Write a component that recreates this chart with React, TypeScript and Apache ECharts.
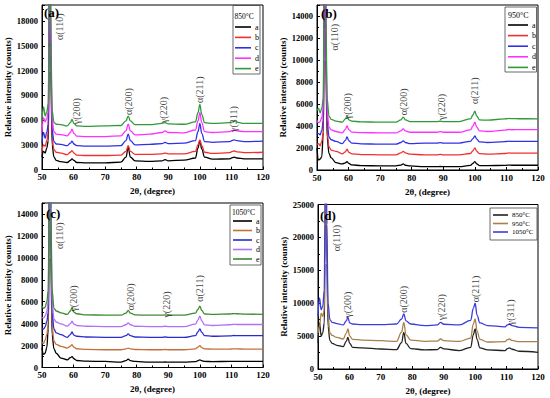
import React, { useEffect, useRef } from "react";
import * as echarts from "echarts";

// Shared 2θ sampling positions (degree)
const TWO_THETA = [50, 50.5, 51, 51.5, 52, 52.2, 52.5, 52.8, 53.2, 53.8, 54.5, 56, 58, 59, 59.5, 60.1, 61, 64, 70, 75, 76.6, 77.3, 78, 79.5, 84, 88, 89, 90, 95, 98.6, 99.4, 100, 100.6, 101.5, 104, 109.5, 110.3, 110.9, 111.7, 114, 120];

// (a) 850°C
const P850_A = [1500, 2200, 2000, 2600, 3500, 12000, 32000, 12000, 3000, 1500, 1100, 950, 850, 1100, 1300, 1100, 850, 800, 800, 900, 1500, 2700, 1500, 1050, 1000, 1050, 1200, 1050, 1150, 1400, 2600, 3500, 2500, 1500, 1250, 1300, 1450, 1500, 1400, 1300, 1300];
const P850_B = [2200, 3000, 2800, 3500, 4500, 13000, 33000, 13000, 3800, 2400, 2100, 2000, 1800, 2100, 2300, 2000, 1750, 1700, 1700, 1750, 2200, 2900, 2200, 1850, 1850, 1900, 2000, 1900, 1900, 2200, 3000, 3600, 2900, 2100, 1950, 2050, 2200, 2250, 2150, 2050, 2100];
const P850_C = [3200, 4500, 3800, 4500, 5500, 14000, 34000, 14000, 4800, 3400, 3100, 3050, 2900, 3200, 3450, 3100, 2900, 2850, 2850, 2900, 3500, 4300, 3500, 3000, 3050, 3150, 3300, 3150, 3200, 3500, 4600, 5600, 4400, 3400, 3300, 3400, 3550, 3600, 3500, 3400, 3450];
const P850_D = [4500, 6300, 5800, 6200, 7000, 15000, 35000, 15000, 6000, 4600, 4300, 4250, 4100, 4500, 4900, 4400, 4050, 4000, 4000, 4100, 4700, 5500, 4700, 4200, 4300, 4500, 4700, 4500, 4450, 4800, 5900, 6900, 5700, 4600, 4500, 4600, 4750, 4800, 4700, 4600, 4600];
const P850_E = [6000, 7600, 6500, 7000, 8000, 16000, 36000, 16000, 7200, 5700, 5500, 5450, 5300, 5700, 6100, 5600, 5300, 5250, 5300, 5350, 5900, 6500, 5900, 5450, 5450, 5600, 5700, 5550, 5500, 5800, 6900, 7900, 6700, 5700, 5600, 5700, 5800, 5850, 5750, 5600, 5600];

// (b) 950°C
const P950_A = [2000, 900, 1000, 1200, 3400, 10000, 28000, 10000, 3000, 1500, 1100, 670, 550, 650, 760, 600, 460, 400, 370, 370, 450, 550, 430, 370, 300, 300, 320, 300, 300, 420, 600, 760, 550, 400, 400, 420, 440, 450, 430, 430, 430];
const P950_B = [2300, 2400, 2200, 2600, 3500, 11000, 29000, 11000, 3500, 2100, 1800, 1700, 1470, 1650, 1900, 1600, 1470, 1400, 1380, 1380, 1550, 1700, 1550, 1440, 1380, 1380, 1420, 1380, 1380, 1500, 1750, 2000, 1700, 1480, 1450, 1500, 1530, 1550, 1530, 1530, 1530];
const P950_C = [3400, 3300, 3200, 3600, 4500, 12000, 30000, 12000, 4500, 3000, 2750, 2600, 2400, 2700, 3000, 2650, 2450, 2380, 2350, 2350, 2500, 2650, 2500, 2400, 2450, 2450, 2480, 2450, 2450, 2600, 2850, 3100, 2800, 2550, 2500, 2580, 2600, 2620, 2600, 2600, 2600];
const P950_D = [4500, 4300, 4400, 4800, 5600, 13000, 31000, 13000, 5500, 3900, 3650, 3500, 3370, 3700, 4000, 3650, 3450, 3400, 3370, 3370, 3550, 3730, 3550, 3430, 3430, 3430, 3480, 3430, 3430, 3650, 4000, 4350, 3900, 3550, 3500, 3620, 3660, 3680, 3660, 3670, 3670];
const P950_E = [5400, 5600, 5200, 5600, 6500, 14000, 32000, 14000, 6500, 4900, 4600, 4440, 4350, 4650, 4900, 4550, 4440, 4380, 4350, 4350, 4550, 4800, 4550, 4400, 4400, 4400, 4430, 4400, 4400, 4650, 5000, 5350, 4900, 4550, 4530, 4650, 4670, 4690, 4670, 4660, 4650];

// (c) 1050°C
const P1050_A = [1800, 1200, 1300, 1800, 3500, 10000, 28000, 10000, 3000, 1700, 1300, 860, 700, 900, 1000, 800, 640, 580, 550, 490, 620, 770, 620, 550, 490, 490, 500, 490, 490, 530, 620, 700, 620, 550, 540, 550, 560, 560, 550, 550, 550];
const P1050_B = [2300, 2200, 2500, 3000, 4000, 11000, 29000, 11000, 3800, 2400, 2100, 1930, 1770, 1950, 2080, 1850, 1710, 1650, 1620, 1620, 1700, 1770, 1700, 1640, 1620, 1620, 1640, 1620, 1620, 1700, 1850, 2000, 1820, 1690, 1680, 1680, 1690, 1700, 1690, 1680, 1680];
const P1050_C = [3600, 3500, 3700, 4200, 5000, 12500, 30000, 12500, 5000, 3500, 3150, 3000, 2750, 3000, 3240, 2950, 2850, 2780, 2750, 2750, 2900, 3060, 2900, 2780, 2750, 2750, 2780, 2750, 2750, 2900, 3250, 3520, 3200, 2900, 2850, 2880, 2900, 2920, 2900, 2900, 2900];
const P1050_D = [4600, 4500, 4700, 5100, 6000, 13500, 31000, 13500, 6000, 4400, 4150, 3980, 3770, 4000, 4220, 3950, 3830, 3760, 3730, 3730, 3900, 4070, 3900, 3760, 3730, 3730, 3760, 3730, 3730, 3950, 4350, 4680, 4250, 3880, 3830, 3900, 3920, 3940, 3920, 3920, 3920];
const P1050_E = [5600, 5400, 5500, 6000, 7000, 14500, 32000, 14500, 7000, 5400, 5150, 4990, 4840, 5150, 5450, 5050, 4900, 4800, 4770, 4770, 4950, 5200, 4950, 4800, 4770, 4770, 4800, 4770, 4770, 4950, 5300, 5600, 5200, 4880, 4840, 4880, 4900, 4920, 4900, 4870, 4840];

// (d) comparison of "a" samples
const CMP_850 = [4000, 7000, 5000, 5500, 7000, 16000, 40000, 16000, 6500, 4300, 3900, 3600, 3400, 4200, 4800, 3900, 3300, 3200, 3040, 2950, 4000, 5580, 3900, 3100, 2900, 2950, 3300, 3050, 2800, 3300, 5200, 6080, 4500, 3200, 2900, 2800, 3100, 3200, 3000, 2700, 2540];
const CMP_950 = [5500, 6500, 8500, 8000, 9000, 18000, 42000, 18000, 8000, 5500, 5100, 4800, 4560, 5400, 6080, 5000, 4500, 4400, 4300, 4200, 5600, 7100, 5200, 4400, 4200, 4250, 4560, 4300, 4200, 4700, 6800, 7600, 5800, 4500, 4100, 4150, 4450, 4560, 4350, 4160, 4160];
const CMP_1050 = [8000, 10800, 9000, 9500, 12000, 22000, 45000, 22000, 10000, 7500, 7100, 6900, 6700, 7300, 7860, 7000, 6840, 6740, 6740, 6840, 7600, 8370, 7300, 6840, 6590, 6700, 7100, 6800, 6700, 7400, 9200, 9990, 8200, 7000, 6600, 6400, 6700, 6840, 6600, 6340, 6240];

// Peak annotations: [2θ, intensity, label]
const PEAKS_A = [[55.7, 17350, "α(110)"], [60.8, 7100, "γ(200)"], [77.3, 8250, "α(200)"], [88.6, 7230, "γ(220)"], [100, 9700, "α(211)"], [110.6, 6130, "γ(311)"]];
const PEAKS_B = [[55.7, 12080, "α(110)"], [59.7, 5800, "γ(200)"], [77.3, 6200, "α(200)"], [89.5, 5740, "γ(220)"], [100, 7200, "α(211)"]];
const PEAKS_C = [[55.7, 12020, "α(110)"], [59.9, 6290, "γ(200)"], [77.9, 6450, "α(200)"], [89.5, 5740, "γ(220)"], [100, 7210, "α(211)"]];
const PEAKS_D = [[55.9, 19900, "α(110)"], [59.4, 9790, "γ(200)"], [77.1, 10590, "α(200)"], [89.4, 9380, "γ(220)"], [100, 12160, "α(211)"], [111.1, 8620, "γ(311)"]];

const SAMPLE_LETTERS = ["a", "b", "c", "d", "e"];
const TEMPS = ["850°C", "950°C", "1050°C"];

const FONT = "'Liberation Serif', 'Times New Roman', serif";

const GRIDS = [
  { left: 42, top: 5, width: 221, height: 164.5 },
  { left: 317, top: 5, width: 221, height: 165 },
  { left: 42, top: 203, width: 221, height: 164.5 },
  { left: 318, top: 204.5, width: 220, height: 164.5 },
];
const Y_MAX = [20000, 15000, 15000, 25000];
const Y_INT = [3000, 2000, 2000, 5000];

function lineSeries(name: string, ys: number[], color: string, idx: number) {
  return {
    type: "line",
    name,
    xAxisIndex: idx,
    yAxisIndex: idx,
    data: TWO_THETA.map((x, i) => [x, ys[i]]),
    showSymbol: false,
    symbol: "none",
    smooth: 0.4,
    smoothMonotone: "x",
    clip: true,
    lineStyle: { color, width: 1.3 },
    itemStyle: { color },
    silent: true,
  };
}

function labelSeries(peaks: any[], idx: number) {
  return {
    type: "scatter",
    name: "peaks" + idx,
    xAxisIndex: idx,
    yAxisIndex: idx,
    symbolSize: 0,
    silent: true,
    data: peaks.map((p) => [p[0], p[1], p[2]]),
    label: {
      show: true,
      position: "inside",
      rotate: 90,
      formatter: (p: any) => p.data[2],
      fontFamily: FONT,
      fontSize: 10,
      color: "#111",
    },
    z: 5,
  };
}

function legendFor(names: string[], left: number, top: number, itemWidth: number, gap: number, fontSize: number) {
  return {
    orient: "vertical",
    left,
    top,
    padding: 0,
    itemWidth,
    itemHeight: 1.6,
    itemGap: gap,
    icon: "rect",
    selectedMode: false,
    data: names,
    formatter: (n: string) => n.split("|")[1],
    textStyle: { fontFamily: FONT, fontSize, lineHeight: 8, color: "#000", padding: [0, 0, 0, -1] },
  };
}

export default function App() {
  const ref = useRef<HTMLDivElement>(null);
  useEffect(() => {
    if (!ref.current) return;
    const chart = echarts.init(ref.current, undefined, { renderer: "svg" });

    const colsAB = ["#000000", "#f03030", "#3030e8", "#ff30ff", "#2e9a3a"];
    const colsC = ["#000000", "#c4703c", "#2a2ad0", "#b070f8", "#3c8a30"];
    const colsD = ["#222222", "#a8804c", "#3c3ce0"];

    const setA = [P850_A, P850_B, P850_C, P850_D, P850_E];
    const setB = [P950_A, P950_B, P950_C, P950_D, P950_E];
    const setC = [P1050_A, P1050_B, P1050_C, P1050_D, P1050_E];
    const setD = [CMP_850, CMP_950, CMP_1050];

    const series: any[] = [];
    const namesA = SAMPLE_LETTERS.map((l) => "850|" + l);
    const namesB = SAMPLE_LETTERS.map((l) => "950|" + l);
    const namesC = SAMPLE_LETTERS.map((l) => "1050|" + l);
    const namesD = TEMPS.map((t) => "cmp|" + t);
    setA.forEach((ys, i) => series.push(lineSeries(namesA[i], ys, colsAB[i], 0)));
    setB.forEach((ys, i) => series.push(lineSeries(namesB[i], ys, colsAB[i], 1)));
    setC.forEach((ys, i) => series.push(lineSeries(namesC[i], ys, colsC[i], 2)));
    setD.forEach((ys, i) => series.push(lineSeries(namesD[i], ys, colsD[i], 3)));
    series.push(labelSeries(PEAKS_A, 0));
    series.push(labelSeries(PEAKS_B, 1));
    series.push(labelSeries(PEAKS_C, 2));
    series.push(labelSeries(PEAKS_D, 3));

    const grid = GRIDS.map((g) => ({ ...g, show: true, borderColor: "#000", borderWidth: 1, backgroundColor: "transparent" }));

    const xAxis = GRIDS.map((_, i) => ({
      type: "value",
      gridIndex: i,
      min: 50,
      max: 120,
      interval: 10,
      name: "2θ, (degree)",
      nameLocation: "middle",
      nameGap: 17,
      nameTextStyle: { fontFamily: FONT, fontWeight: "bold", fontSize: 9, color: "#000" },
      axisLine: { show: true, onZero: false, lineStyle: { color: "#000", width: 1 } },
      axisTick: { show: true, inside: true, length: 3, lineStyle: { color: "#000" } },
      minorTick: { show: true, splitNumber: 2, length: 2, lineStyle: { color: "#000" } },
      axisLabel: { fontFamily: FONT, fontWeight: "bold", fontSize: 9, color: "#000", margin: 3 },
      splitLine: { show: false },
    }));

    const yAxis = GRIDS.map((_, i) => ({
      type: "value",
      gridIndex: i,
      min: 0,
      max: Y_MAX[i],
      interval: Y_INT[i],
      name: "Relative intensity (counts)",
      nameLocation: "middle",
      nameGap: 30,
      nameTextStyle: { fontFamily: FONT, fontWeight: "bold", fontSize: 9, color: "#000" },
      axisLine: { show: true, lineStyle: { color: "#000", width: 1 } },
      axisTick: { show: true, inside: true, length: 3, lineStyle: { color: "#000" } },
      minorTick: { show: true, splitNumber: 2, length: 2, lineStyle: { color: "#000" } },
      axisLabel: {
        fontFamily: FONT,
        fontWeight: "bold",
        fontSize: 8.5,
        color: "#000",
        margin: 4,
        showMaxLabel: i === 3,
        formatter: (v: number) => String(v),
      },
      splitLine: { show: false },
    }));

    const legend = [
      legendFor(namesA, 235, 23, 16, 2.4, 8),
      legendFor(namesB, 508, 21, 20, 2.6, 8),
      legendFor(namesC, 233, 217, 19, 1.5, 8),
      legendFor(namesD, 493, 211, 15, 0.5, 7),
    ];

    const txt = (x: number, y: number, text: string, size: number, bold = false, align = "left") => ({
      type: "text",
      x,
      y,
      z: 100,
      style: { text, fontFamily: FONT, fontSize: size, fontWeight: bold ? "bold" : "normal", fill: "#000", align, verticalAlign: "middle" },
    });
    const box = (x: number, y: number, w: number, h: number) => ({
      type: "rect",
      z: 100,
      shape: { x, y, width: w, height: h },
      style: { fill: "none", stroke: "#444", lineWidth: 0.8 },
    });

    const graphic = [
      box(233, 5.5, 27, 68.5),
      txt(234.5, 16, "850°C", 7.5),
      box(505, 7, 31.5, 65),
      txt(508, 15, "950°C", 8),
      box(230, 205, 31, 60),
      txt(232, 212, "1050°C", 7.5),
      box(490, 208, 47, 32),
      txt(44, 12, "(a)", 13, true),
      txt(321, 13, "(b)", 13, true),
      txt(46, 213, "(c)", 13, true),
      txt(320, 215, "(d)", 13, true),
    ];

    chart.setOption({
      animation: false,
      backgroundColor: "#ffffff",
      grid,
      xAxis,
      yAxis,
      legend,
      series,
      graphic,
    });
    return () => chart.dispose();
  }, []);
  return <div ref={ref} style={{ position: "fixed", left: 0, top: 0, width: 550, height: 398, background: "#fff" }} />;
}
